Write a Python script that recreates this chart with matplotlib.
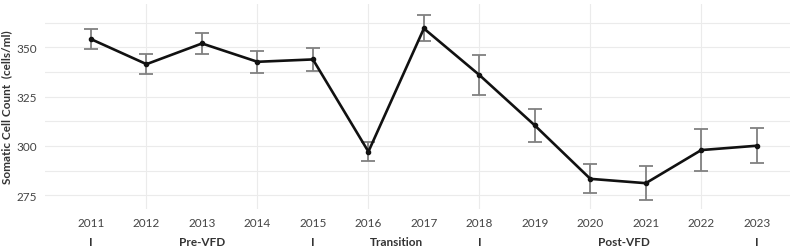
import numpy as np
import matplotlib
matplotlib.use("Agg")
import matplotlib.pyplot as plt
import matplotlib.transforms as mtransforms

years = [2011, 2012, 2013, 2014, 2015, 2016, 2017, 2018, 2019, 2020, 2021, 2022, 2023]
scc_mean = [354.2, 341.5, 352.0, 342.7, 343.9, 297.1, 359.6, 336.0, 310.4, 283.3, 281.1, 297.9, 300.1]
scc_err = [5.2, 5.2, 5.5, 5.7, 5.8, 4.8, 6.6, 10.0, 8.2, 7.3, 8.6, 10.7, 8.8]

period_labels = ["I", "Pre-VFD", "I", "Transition", "I", "Post-VFD", "I"]
period_pos = [2011, 2013, 2015, 2016.5, 2018, 2020.6, 2023]

y_ticks = [275, 300, 325, 350]
y_minor = [287.5, 312.5, 337.5, 362.5]

plt.rcParams['font.family'] = ['Lato', 'DejaVu Sans']

fig = plt.figure(figsize=(7.96, 2.53), dpi=100)
ax = fig.add_axes([0.0565, 0.170, 0.936, 0.810])

ax.errorbar(years, scc_mean, yerr=scc_err, fmt='none', ecolor='#808080',
            elinewidth=1.3, capsize=5, capthick=1.3, zorder=2)
ax.plot(years, scc_mean, color='#111111', linewidth=1.9, marker='o',
        markersize=3, zorder=3)

ax.set_xlim(2010.17, 2023.6)
ax.set_ylim(268, 372)
ax.set_xticks(years)
ax.set_xticklabels([str(y) for y in years], fontsize=8.5, color='#444444')
ax.set_yticks(y_ticks)
ax.tick_params(axis='both', length=0, which='both')
ax.tick_params(axis='x', pad=6)
ax.tick_params(axis='y', labelsize=8.5, labelcolor='#444444', pad=6)

# gridlines: horizontal at majors and minors, vertical at even years
for y in y_ticks + y_minor:
    ax.axhline(y, color='#ebebeb', linewidth=0.8, zorder=0)
for x in years[1::2]:
    ax.axvline(x, color='#ebebeb', linewidth=0.8, zorder=0)

for s in ax.spines.values():
    s.set_visible(False)

ax.set_ylabel("Somatic Cell Count  (cells/ml)", fontsize=8.5, fontweight='bold',
              color='#333333', labelpad=3)

trans = mtransforms.blended_transform_factory(ax.transData, fig.transFigure)
for lab, xp in zip(period_labels, period_pos):
    ax.text(xp, 0.04, lab, transform=trans, ha='center', va='center',
            fontsize=8.5, fontweight='bold', color='#333333')

fig.savefig("out.png", dpi=100)
